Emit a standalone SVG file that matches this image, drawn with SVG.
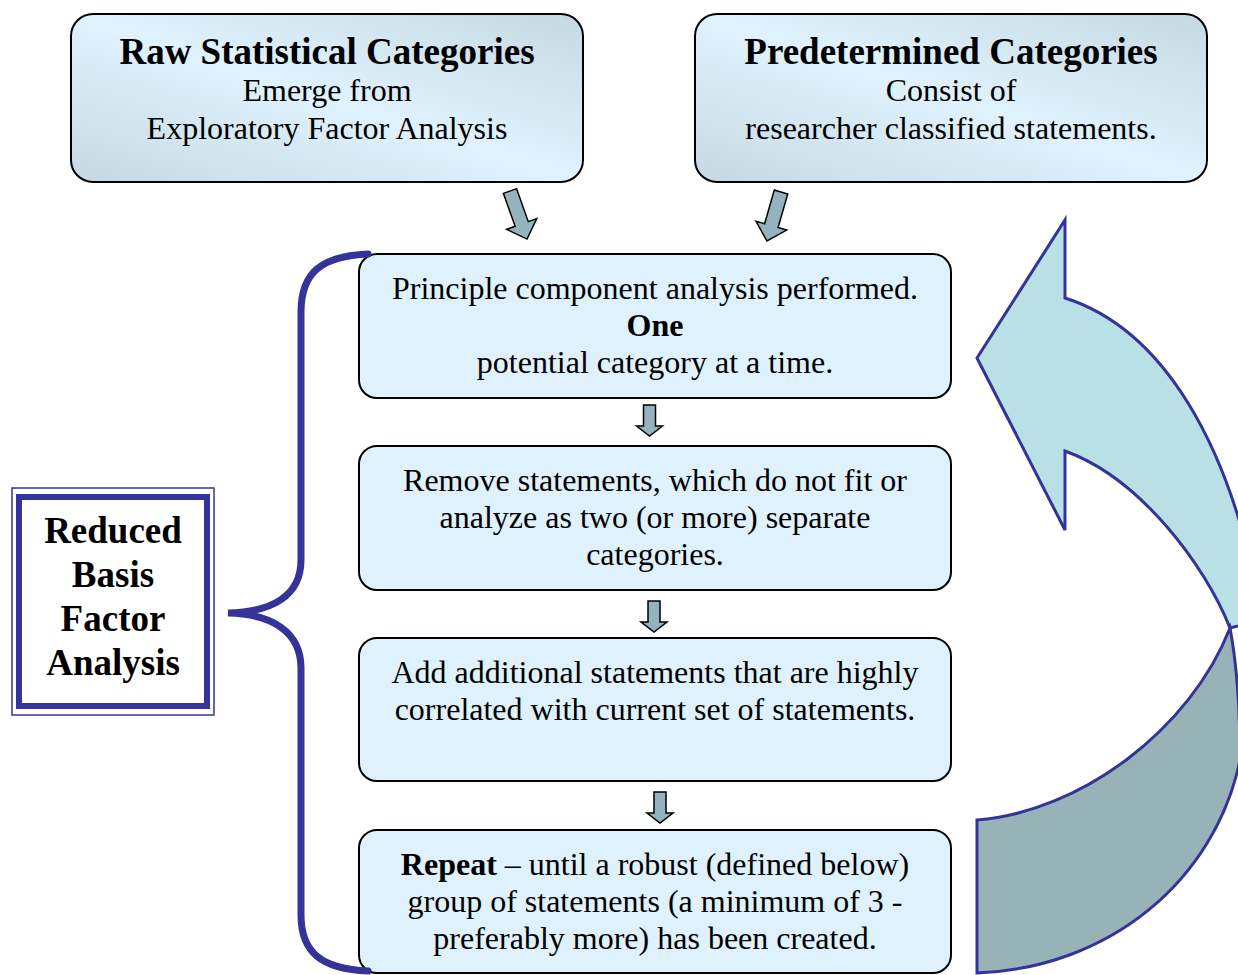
<svg xmlns="http://www.w3.org/2000/svg" width="1238" height="975" viewBox="0 0 1238 975">
<defs>
<linearGradient id="topGrad" x1="0" y1="1" x2="1" y2="0">
<stop offset="0" stop-color="#c6d9e3"/>
<stop offset="0.5" stop-color="#e0f2fd"/>
<stop offset="1" stop-color="#c6d9e3"/>
</linearGradient>
<polygon id="arr" points="-7,0 7,0 7,35 16,35 0,51 -16,35 -7,35"/>
<polygon id="darr" points="-6,0 6,0 6,21 13,21 0,31 -13,21 -6,21"/>
</defs>
<style>
.top{fill:url(#topGrad);stroke:#000;stroke-width:2}
.box{fill:#dff1fc;stroke:#000;stroke-width:2}
.t{font-family:"Liberation Serif","Times New Roman",serif;font-size:32px;fill:#000;text-anchor:middle}
.b{font-weight:bold}
.h{font-family:"Liberation Serif","Times New Roman",serif;font-size:37px;font-weight:bold;fill:#000;text-anchor:middle}
.ar{fill:#93b3bf;stroke:#000;stroke-width:1.5;stroke-linejoin:miter}
.curve{stroke:#333399;stroke-width:3;stroke-linejoin:miter}
</style>
<rect width="1238" height="975" fill="#fff"/>

<g id="curved-arrow">
<path class="curve" fill="#b9e0e4" d="M977 358 L1065 220 L1065 298 C1160 328 1232 440 1262 620 L1230 628 C1205 565 1140 478 1065 451 L1065 530 Z"/>
<path class="curve" fill="#97b3b8" d="M977 820 C1080 812 1190 730 1230 628 C1236 660 1240 700 1240 760 C1215 880 1110 968 977 973 Z"/>
</g>

<g id="node-raw">
<rect class="top" x="71" y="14" width="512" height="168" rx="22"/>
<text class="h" x="327" y="64">Raw Statistical Categories</text>
<text class="t" x="327" y="101">Emerge from</text>
<text class="t" x="327" y="139">Exploratory Factor Analysis</text>
</g>

<g id="node-predetermined">
<rect class="top" x="695" y="14" width="512" height="168" rx="22"/>
<text class="h" x="951" y="64">Predetermined Categories</text>
<text class="t" x="951" y="101">Consist of</text>
<text class="t" x="951" y="139">researcher classified statements.</text>
</g>

<g id="node-pca">
<rect class="box" x="359" y="254" width="592" height="144" rx="18"/>
<text class="t" x="655" y="299">Principle component analysis performed.</text>
<text class="t b" x="655" y="336">One</text>
<text class="t" x="655" y="373">potential category at a time.</text>
</g>

<g id="node-remove">
<rect class="box" x="359" y="446" width="592" height="144" rx="18"/>
<text class="t" x="655" y="491">Remove statements, which do not fit or</text>
<text class="t" x="655" y="528">analyze as two (or more) separate</text>
<text class="t" x="655" y="565">categories.</text>
</g>

<g id="node-add">
<rect class="box" x="359" y="638" width="592" height="143" rx="18"/>
<text class="t" x="655" y="683">Add additional statements that are highly</text>
<text class="t" x="655" y="720">correlated with current set of statements.</text>
</g>

<g id="node-repeat">
<rect class="box" x="359" y="830" width="592" height="143" rx="18"/>
<text class="t" x="655" y="875"><tspan class="b">Repeat</tspan> – until a robust (defined below)</text>
<text class="t" x="655" y="912">group of statements (a minimum of 3 -</text>
<text class="t" x="655" y="949">preferably more) has been created.</text>
</g>

<g id="node-rbfa">
<rect x="12" y="488" width="202" height="227" fill="#fff" stroke="#333399" stroke-width="1.5"/>
<rect x="19" y="497" width="188" height="209" fill="none" stroke="#333399" stroke-width="6"/>
<text class="h" x="113" y="543">Reduced</text>
<text class="h" x="113" y="587">Basis</text>
<text class="h" x="113" y="631">Factor</text>
<text class="h" x="113" y="675">Analysis</text>
</g>

<g id="connectors">
<path d="M368 254 C322 256 301 272 301 312 L301 560 C301 596 272 612 228 613 C272 614 301 632 301 668 L301 915 C301 953 322 969 368 971" fill="none" stroke="#333399" stroke-width="7" stroke-linecap="round"/>
<use href="#arr" class="ar" transform="translate(510 191) rotate(-19.5)"/>
<use href="#arr" class="ar" transform="translate(781 192) rotate(16)"/>
<use href="#darr" class="ar" transform="translate(649.5 405)"/>
<use href="#darr" class="ar" transform="translate(654 601)"/>
<use href="#darr" class="ar" transform="translate(660 792)"/>
</g>
</svg>
